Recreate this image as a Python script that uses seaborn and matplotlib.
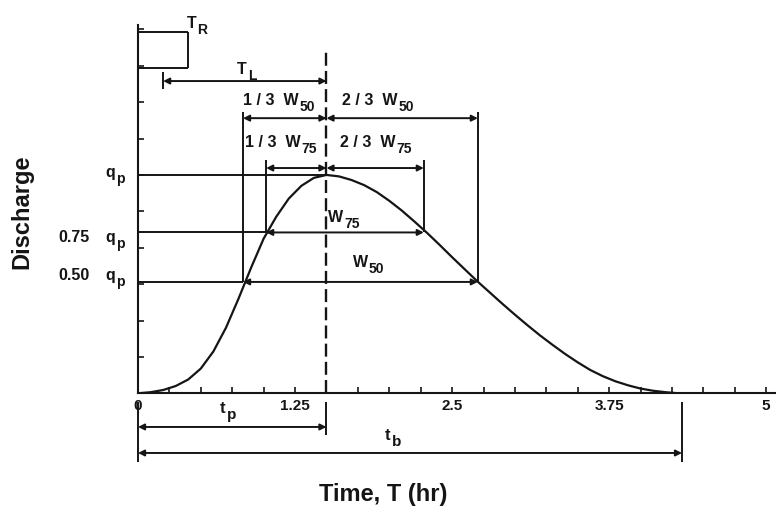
import matplotlib
matplotlib.use("Agg")
import matplotlib.pyplot as plt
import seaborn as sns
import pandas as pd

# ---------------- data ----------------
curve_t = [0.0, 0.1, 0.2, 0.3, 0.4, 0.5, 0.6, 0.7, 0.8, 0.9, 1.0, 1.1, 1.2, 1.3, 1.4,
           1.5, 1.6, 1.7, 1.8, 1.9, 2.0, 2.1, 2.2, 2.3, 2.4, 2.5, 2.6, 2.7, 2.8, 2.9,
           3.0, 3.1, 3.2, 3.3, 3.4, 3.5, 3.6, 3.7, 3.8, 3.9, 4.0, 4.1, 4.2, 4.3]
curve_q = [0.00, 0.03, 0.09, 0.20, 0.38, 0.68, 1.15, 1.80, 2.60, 3.45, 4.25, 4.85,
           5.35, 5.70, 5.92, 6.00, 5.96, 5.86, 5.72, 5.53, 5.29, 5.02, 4.72, 4.41,
           4.08, 3.74, 3.41, 3.08, 2.77, 2.46, 2.16, 1.87, 1.59, 1.33, 1.08, 0.85,
           0.64, 0.47, 0.33, 0.22, 0.13, 0.07, 0.03, 0.00]

t_peak = 1.50          # time to peak
q_peak = 6.00          # q_p
q75 = 4.42             # 0.75 q_p level
q50 = 3.06             # 0.50 q_p level
w75_left, w75_right = 1.02, 2.275
w50_left, w50_right = 0.836, 2.705
rain_end = 0.40        # T_R
rain_lo, rain_hi = 8.94, 9.93
rain_mid = 0.20
t_base = 4.33          # t_b

xtick_vals = [i * 0.25 for i in range(21)]
xtick_labels = {0.0: "0", 1.25: "1.25", 2.5: "2.5", 3.75: "3.75", 5.0: "5"}
ytick_vals = list(range(0, 11))
level_prefix = ["", "0.75", "0.50"]
level_text_y = [5.94, 4.16, 3.11]

# ---------------- style ----------------
sns.set_theme(style="white")
plt.rcParams["font.family"] = ["Liberation Sans", "DejaVu Sans"]
plt.rcParams["font.weight"] = "bold"

INK = "#151515"
FS = 11.5
SFS = 10

fig = plt.figure(figsize=(7.76, 5.18), dpi=100)
ax = fig.add_axes([138 / 776, 1 - 393.3 / 518, 637 / 776, 368.3 / 518])

df = pd.DataFrame({"t": curve_t, "q": curve_q})
sns.lineplot(data=df, x="t", y="q", ax=ax, color=INK, lw=1.6, sort=False)

ax.set_xlim(0, 5.07)
ax.set_ylim(0, 10.12)
ax.set_xlabel("")
ax.set_ylabel("")

for s in ["top", "right"]:
    ax.spines[s].set_visible(False)
for s in ["left", "bottom"]:
    ax.spines[s].set_color(INK)
    ax.spines[s].set_linewidth(1.5)

ax.set_xticks(xtick_vals)
ax.set_xticklabels([xtick_labels.get(round(v, 2), "") for v in xtick_vals])
ax.set_yticks(ytick_vals)
ax.set_yticklabels([])
ax.tick_params(axis="both", direction="in", length=4, width=1.2, color=INK,
               labelsize=11, pad=4, labelcolor=INK)
ax.tick_params(axis="x", bottom=True)
ax.tick_params(axis="y", left=True)

LW = 1.4


def hline(y, x0, x1):
    ax.plot([x0, x1], [y, y], color=INK, lw=LW, clip_on=False, solid_capstyle="butt")


def vline(x, y0, y1):
    ax.plot([x, x], [y0, y1], color=INK, lw=LW, clip_on=False, solid_capstyle="butt")


def darrow(x0, x1, y):
    ax.annotate("", xy=(x1, y), xytext=(x0, y), annotation_clip=False,
                arrowprops=dict(arrowstyle="<|-|>", color=INK, lw=LW,
                                mutation_scale=9, shrinkA=0, shrinkB=0))


def sublabel(x, y, main, sub, fs=FS, sfs=SFS, drop=2.0, ha="left"):
    t = ax.text(x, y, main, fontsize=fs, color=INK, ha=ha, va="baseline",
                fontweight="bold")
    ax.annotate(sub, xy=(1, 0), xycoords=t, xytext=(0.6, -drop),
                textcoords="offset points", fontsize=sfs, color=INK,
                ha="left", va="baseline", fontweight="bold", annotation_clip=False)


# rainfall block T_R
hline(rain_hi, 0, rain_end)
hline(rain_lo, 0, rain_end)
vline(rain_end, rain_lo, rain_hi)
sublabel(0.39, 10.04, "T", "R")

# lag time T_L
vline(rain_mid, 8.36, 8.83)
darrow(rain_mid, t_peak, 8.58)
sublabel(0.79, 8.78, "T", "L")

# dashed line through the peak
ax.plot([t_peak, t_peak], [0, 9.43], color=INK, lw=1.7, dashes=(5.5, 2.2))

# W50 construction
vline(w50_left, q50, 7.73)
vline(w50_right, q50, 7.73)
darrow(w50_left, t_peak, 7.56)
darrow(t_peak, w50_right, 7.56)
sublabel(w50_left, 7.92, "1 / 3  W", "50")
sublabel(1.624, 7.92, "2 / 3  W", "50")

# W75 construction
vline(w75_left, q75, 6.40)
vline(w75_right, q75, 6.40)
darrow(w75_left, t_peak, 6.19)
darrow(t_peak, w75_right, 6.19)
sublabel(0.852, 6.77, "1 / 3  W", "75")
sublabel(1.608, 6.77, "2 / 3  W", "75")

# discharge levels
hline(q_peak, 0, t_peak)
hline(q75, 0, w75_left)
darrow(w75_left, w75_right, q75)
hline(q50, 0, w50_left)
darrow(w50_left, w50_right, q50)
sublabel(1.513, 4.71, "W", "75")
sublabel(1.712, 3.47, "W", "50")

for pre, yy in zip(level_prefix, level_text_y):
    sublabel(-0.183, yy, "q", "p", ha="right")
    if pre:
        ax.text(-0.382, yy, pre, fontsize=FS, color=INK, ha="right",
                va="baseline", fontweight="bold")

# t_p and t_b below the axis
vline(0, -0.24, -1.89)
vline(t_peak, -0.24, -1.15)
vline(t_base, -0.24, -1.89)
darrow(0, t_peak, -0.925)
darrow(0, t_base, -1.64)
sublabel(0.653, -0.54, "t", "p", fs=12, sfs=11)
sublabel(1.967, -1.28, "t", "b", fs=12, sfs=11)

# axis titles
fig.text(22 / 776, 1 - 212 / 518, "Discharge", rotation=90, fontsize=17,
         fontweight="bold", color=INK, ha="center", va="center")
fig.text(383 / 776, 1 - 495 / 518, "Time, T (hr)", fontsize=17,
         fontweight="bold", color=INK, ha="center", va="center")

fig.savefig("out.png", dpi=100, facecolor="white")
